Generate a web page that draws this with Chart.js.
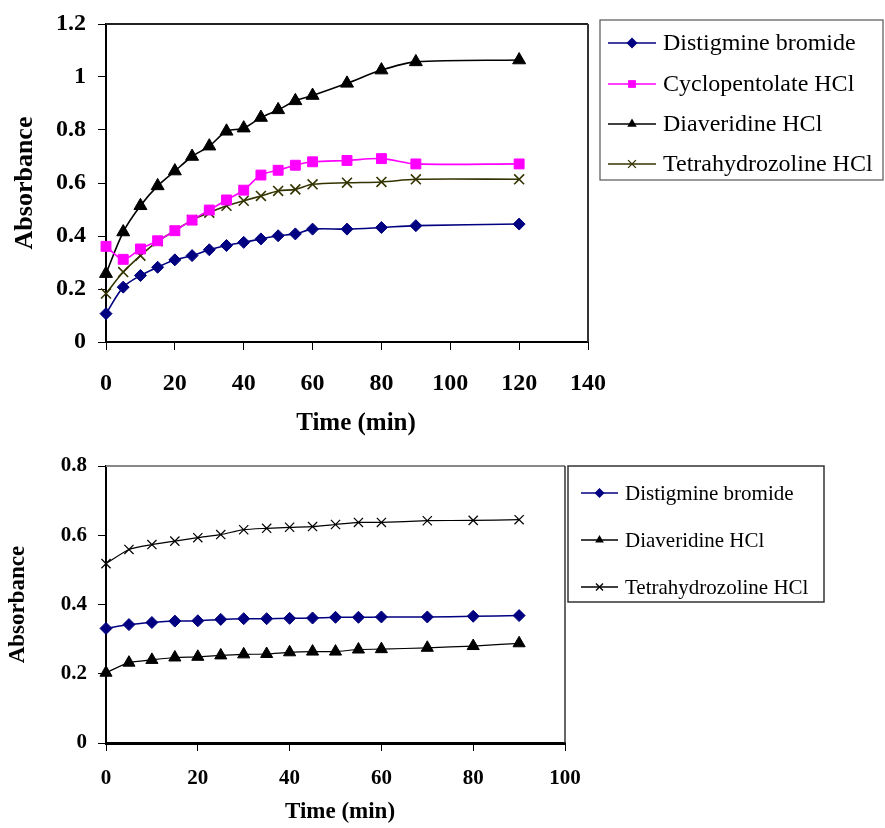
<!DOCTYPE html>
<html>
<head>
<meta charset="utf-8">
<script src="https://cdn.jsdelivr.net/npm/chart.js@4/dist/chart.umd.min.js"></script>
<style>
  html, body { margin: 0; padding: 0; background: #fff; }
  #wrap { position: relative; width: 885px; height: 828px; }
  canvas { position: absolute; left: 0; }
  #c1 { top: 0; }
  #c2 { top: 440px; }
</style>
</head>
<body>
<div id="wrap">
  <canvas id="c1" width="885" height="440"></canvas>
  <canvas id="c2" width="885" height="388"></canvas>
</div>
<script>
// ---------- Data: top chart ----------
const timeTop = [0, 5, 10, 15, 20, 25, 30, 35, 40, 45, 50, 55, 60, 70, 80, 90, 120];
const distigmineTop = [0.107, 0.207, 0.251, 0.282, 0.31, 0.326, 0.348, 0.364, 0.376, 0.389, 0.401, 0.408, 0.426, 0.426, 0.432, 0.439, 0.445];
const cyclopentolateTop = [0.361, 0.312, 0.351, 0.382, 0.42, 0.46, 0.498, 0.536, 0.573, 0.63, 0.648, 0.667, 0.68, 0.685, 0.692, 0.672, 0.672];
const diaveridineTop = [0.258, 0.415, 0.514, 0.589, 0.645, 0.70, 0.739, 0.795, 0.807, 0.847, 0.876, 0.91, 0.93, 0.976, 1.026, 1.057, 1.064];
const tetrahydrozolineTop = [0.183, 0.264, 0.326, 0.38, 0.42, 0.46, 0.488, 0.514, 0.533, 0.551, 0.57, 0.576, 0.595, 0.601, 0.604, 0.614, 0.614];
const xTicksTop = [0, 20, 40, 60, 80, 100, 120, 140];
const yTicksTop = [0, 0.2, 0.4, 0.6, 0.8, 1, 1.2];

// ---------- Data: bottom chart ----------
const timeBottom = [0, 5, 10, 15, 20, 25, 30, 35, 40, 45, 50, 55, 60, 70, 80, 90];
const distigmineBottom = [0.331, 0.342, 0.348, 0.352, 0.353, 0.357, 0.359, 0.359, 0.36, 0.361, 0.363, 0.363, 0.364, 0.364, 0.366, 0.368];
const diaveridineBottom = [0.203, 0.232, 0.24, 0.247, 0.249, 0.253, 0.256, 0.257, 0.262, 0.264, 0.264, 0.27, 0.271, 0.275, 0.28, 0.288];
const tetrahydrozolineBottom = [0.518, 0.559, 0.573, 0.583, 0.593, 0.602, 0.616, 0.62, 0.623, 0.625, 0.631, 0.637, 0.637, 0.642, 0.643, 0.645];
const xTicksBottom = [0, 20, 40, 60, 80, 100];
const yTicksBottom = [0, 0.2, 0.4, 0.6, 0.8];

const xAxisTitle = 'Time (min)';
const yAxisTitle = 'Absorbance';

Chart.defaults.font.family = '"Liberation Serif", "Times New Roman", serif';
Chart.defaults.color = '#000';

const pts = (xs, ys) => xs.map((x, i) => ({ x: x, y: ys[i] }));

function drawMarker(ctx, style, x, y, r, color, lw) {
  ctx.save();
  ctx.fillStyle = color;
  ctx.strokeStyle = color;
  ctx.lineWidth = lw || 1;
  ctx.beginPath();
  if (style === 'rectRot') {
    ctx.moveTo(x, y - r); ctx.lineTo(x + r, y); ctx.lineTo(x, y + r); ctx.lineTo(x - r, y); ctx.closePath(); ctx.fill();
  } else if (style === 'rect') {
    const s = r * Math.SQRT1_2; ctx.rect(x - s, y - s, 2 * s, 2 * s); ctx.fill();
  } else if (style === 'triangle') {
    ctx.moveTo(x, y - r); ctx.lineTo(x + r * 0.866, y + r * 0.5); ctx.lineTo(x - r * 0.866, y + r * 0.5); ctx.closePath(); ctx.fill();
  } else if (style === 'crossRot') {
    const s = r * Math.SQRT1_2;
    ctx.moveTo(x - s, y - s); ctx.lineTo(x + s, y + s); ctx.moveTo(x + s, y - s); ctx.lineTo(x - s, y + s); ctx.stroke();
  }
  ctx.restore();
}

function framePlugin(cfg) {
  return {
    id: 'frameLegend',
    afterDraw(chart) {
      const ctx = chart.ctx, a = chart.chartArea;
      ctx.save();
      // plot frame: top and right
      ctx.strokeStyle = cfg.topColor; ctx.lineWidth = cfg.topWidth;
      ctx.beginPath(); ctx.moveTo(a.left, a.top); ctx.lineTo(a.right, a.top); ctx.stroke();
      ctx.strokeStyle = cfg.rightColor; ctx.lineWidth = cfg.rightWidth;
      ctx.beginPath(); ctx.moveTo(a.right, a.top); ctx.lineTo(a.right, a.bottom); ctx.stroke();
      // x-axis title
      ctx.fillStyle = '#000';
      ctx.font = 'bold ' + cfg.xTitle.size + 'px "Liberation Serif"';
      ctx.textAlign = 'center'; ctx.textBaseline = 'middle';
      ctx.fillText(xAxisTitle, cfg.xTitle.x, cfg.xTitle.y);
      // legend box
      const L = cfg.legend;
      ctx.strokeStyle = L.border; ctx.lineWidth = L.borderWidth;
      ctx.strokeRect(L.x, L.y, L.w, L.h);
      ctx.font = L.font;
      ctx.textBaseline = 'middle';
      ctx.textAlign = 'left';
      chart.data.datasets.forEach((ds, i) => {
        const yy = L.rows[i];
        ctx.strokeStyle = ds.borderColor; ctx.lineWidth = L.lineWidth;
        ctx.beginPath(); ctx.moveTo(L.lineX0, yy); ctx.lineTo(L.lineX1, yy); ctx.stroke();
        drawMarker(ctx, ds.pointStyle, (L.lineX0 + L.lineX1) / 2, yy, L.markerR, ds.pointBackgroundColor || ds.borderColor, 1.3);
        ctx.fillStyle = '#000';
        ctx.fillText(ds.label, L.textX, yy + 1);
      });
      ctx.restore();
    }
  };
}

function makeScales(o) {
  return {
    x: {
      type: 'linear', min: o.xTicks[0], max: o.xTicks[o.xTicks.length - 1],
      afterBuildTicks: s => { s.ticks = o.xTicks.map(v => ({ value: v })); },
      afterFit: s => { s.height = o.xHeight; },
      grid: { drawOnChartArea: false, drawTicks: true, tickLength: 8, tickColor: '#000', tickWidth: 1 },
      border: { display: true, color: '#000', width: o.xBorder },
      ticks: { padding: o.xTickPad, maxRotation: 0, autoSkip: false, font: { size: o.tickSize, weight: 'bold', lineHeight: 1 }, callback: v => String(v) },
      title: { display: false }
    },
    y: {
      type: 'linear', min: o.yTicks[0], max: o.yTicks[o.yTicks.length - 1],
      afterBuildTicks: s => { s.ticks = o.yTicks.map(v => ({ value: v })); },
      afterFit: s => { s.width = o.yWidth; },
      grid: { drawOnChartArea: false, drawTicks: true, tickLength: 8, tickColor: '#000', tickWidth: 1 },
      border: { display: true, color: '#000', width: 2 },
      ticks: { padding: o.yTickPad, autoSkip: false, font: { size: o.tickSize, weight: 'bold', lineHeight: 1 }, callback: v => String(v) },
      title: { display: true, text: yAxisTitle, font: { size: o.titleSize, weight: 'bold', lineHeight: 1 }, padding: { top: o.yTitlePad, bottom: 0 } }
    }
  };
}

function ds(label, xs, ys, color, style, r, lw, tension, pbw) {
  return {
    label: label, data: pts(xs, ys),
    borderColor: color, backgroundColor: color,
    pointBackgroundColor: color, pointBorderColor: color,
    pointStyle: style, pointRadius: r, pointHoverRadius: r,
    pointBorderWidth: pbw, borderWidth: lw, tension: tension, clip: false, fill: false
  };
}

// ---------- Top chart ----------
new Chart(document.getElementById('c1'), {
  type: 'line',
  data: {
    datasets: [
      ds('Distigmine bromide', timeTop, distigmineTop, '#000080', 'rectRot', 6, 1.6, 0.3, 1),
      ds('Cyclopentolate HCl', timeTop, cyclopentolateTop, '#FF00FF', 'rect', 7, 1.6, 0.3, 1),
      ds('Diaveridine HCl', timeTop, diaveridineTop, '#000000', 'triangle', 7.5, 1.6, 0.3, 1),
      ds('Tetrahydrozoline HCl', timeTop, tetrahydrozolineTop, '#333300', 'crossRot', 7, 1.6, 0.3, 1.6)
    ]
  },
  options: {
    responsive: false, animation: false, devicePixelRatio: 1,
    layout: { padding: { left: 0, top: 22, right: 297, bottom: 0 } },
    plugins: { legend: { display: false }, tooltip: { enabled: false } },
    scales: makeScales({ xTicks: xTicksTop, yTicks: yTicksTop, xHeight: 98, yWidth: 106, xBorder: 2,
      xTickPad: 22, yTickPad: 12, tickSize: 24, titleSize: 26, yTitlePad: 12 })
  },
  plugins: [framePlugin({
    topColor: '#222', topWidth: 2, rightColor: '#333', rightWidth: 2,
    xTitle: { x: 356, y: 424, size: 25 },
    legend: { x: 600, y: 20, w: 283, h: 160, border: '#555', borderWidth: 1.2, font: '24px "Liberation Serif"',
      rows: [43, 84, 124, 164], lineX0: 608, lineX1: 656, textX: 663, markerR: 5.5, lineWidth: 1.5 }
  })]
});

// ---------- Bottom chart ----------
new Chart(document.getElementById('c2'), {
  type: 'line',
  data: {
    datasets: [
      ds('Distigmine bromide', timeBottom, distigmineBottom, '#000080', 'rectRot', 6, 1.5, 0.2, 1),
      ds('Diaveridine HCl', timeBottom, diaveridineBottom, '#000000', 'triangle', 7, 1.2, 0.2, 1),
      ds('Tetrahydrozoline HCl', timeBottom, tetrahydrozolineBottom, '#000000', 'crossRot', 6.5, 1.2, 0.2, 1.2)
    ]
  },
  options: {
    responsive: false, animation: false, devicePixelRatio: 1,
    layout: { padding: { left: 0, top: 26, right: 320, bottom: 0 } },
    plugins: { legend: { display: false }, tooltip: { enabled: false } },
    scales: makeScales({ xTicks: xTicksBottom, yTicks: yTicksBottom, xHeight: 85, yWidth: 106, xBorder: 3,
      xTickPad: 17, yTickPad: 11, tickSize: 21, titleSize: 23, yTitlePad: 7 })
  },
  plugins: [framePlugin({
    topColor: '#888', topWidth: 2, rightColor: '#333', rightWidth: 1.5,
    xTitle: { x: 340, y: 372, size: 23 },
    legend: { x: 568, y: 26, w: 256, h: 136, border: '#333', borderWidth: 1.5, font: '21px "Liberation Serif"',
      rows: [53, 100, 147], lineX0: 581, lineX1: 618, textX: 625, markerR: 5, lineWidth: 1.3 }
  })]
});
</script>
</body>
</html>
